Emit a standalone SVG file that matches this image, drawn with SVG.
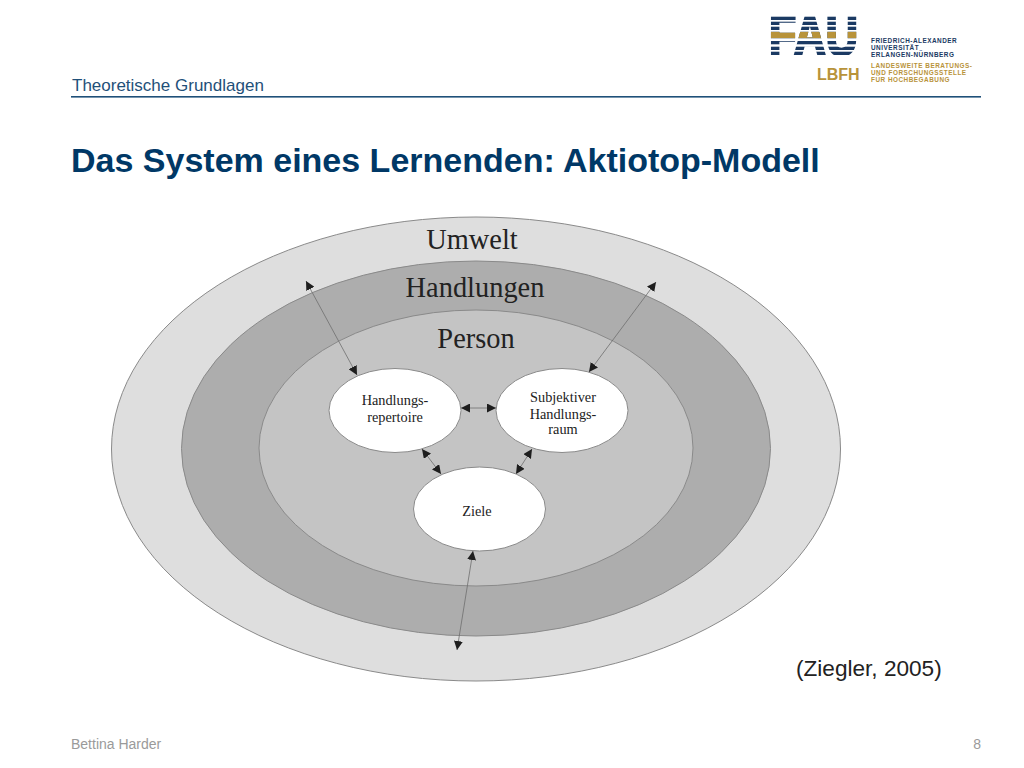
<svg xmlns="http://www.w3.org/2000/svg" width="1024" height="768" viewBox="0 0 1024 768">
<style>
.s{font-family:"Liberation Sans",Arial,sans-serif}
.t{font-family:"Liberation Serif","Times New Roman",serif;fill:#222;text-anchor:middle}
.n{font-size:14.3px}
.h{font-size:28.4px}
.e{stroke:#8a8a8a;stroke-width:1}
.c{stroke:#6e6e6e;stroke-width:.8;fill:none;marker-start:url(#a);marker-end:url(#a)}
.lg{font-size:6.4px;letter-spacing:.5px;font-weight:bold;font-family:"Liberation Sans",Arial,sans-serif}
.fau{font-size:56.700px;font-weight:bold;stroke-width:2.6}
</style>
<defs>
<marker id="a" viewBox="0 0 10 10" refX="10" refY="5" markerWidth="9" markerHeight="9" markerUnits="userSpaceOnUse" orient="auto-start-reverse"><path d="M0 0L10 5L0 10Z" fill="#1e1e1e"/></marker>
<clipPath id="gold"><rect x="760" y="31.700" width="110" height="6.600"/></clipPath>
</defs>
<rect width="1024" height="768" fill="#fff"/>
<g id="header">
<text x="72" y="91" class="s" font-size="17" fill="#1f5079">Theoretische Grundlagen</text>
<rect x="71" y="96" width="910" height="1.6" fill="#1f5079"/>
<text x="71" y="172" class="s" font-size="34" font-weight="bold" fill="#003866">Das System eines Lernenden: Aktiotop-Modell</text>
</g>
<g id="logo">
<text x="769" y="55" class="s fau" fill="#1b3a63" stroke="#1b3a63" textLength="89" lengthAdjust="spacingAndGlyphs">FAU</text>
<g clip-path="url(#gold)"><text x="769" y="55" class="s fau" fill="#b8933a" stroke="#b8933a" textLength="89" lengthAdjust="spacingAndGlyphs">FAU</text></g>
<g fill="#fff"><rect x="760" y="20" width="105" height="1.700"/><rect x="760" y="25" width="105" height="1.700"/><rect x="760" y="30" width="105" height="1.700"/><rect x="760" y="38.300" width="105" height="2.700"/><rect x="760" y="44.300" width="105" height="2.400"/><rect x="760" y="50" width="105" height="1.700"/><rect x="760" y="55" width="105" height="4"/><rect x="760" y="10" width="105" height="6.700"/></g>
<text x="817" y="80" class="s" font-size="16" font-weight="bold" fill="#b8933a">LBFH</text>
<g fill="#1b3a63" class="lg"><text x="871" y="43">FRIEDRICH-ALEXANDER</text><text x="871" y="50">UNIVERSITÄT</text><text x="871" y="57">ERLANGEN-NÜRNBERG</text></g>
<g fill="#b8933a" class="lg"><text x="871" y="67.500">LANDESWEITE BERATUNGS-</text><text x="871" y="74.500">UND FORSCHUNGSSTELLE</text><text x="871" y="81.500">FÜR HOCHBEGABUNG</text></g>
</g>
<g id="umwelt"><ellipse cx="476" cy="449" rx="364.500" ry="232" fill="#dedede" class="e"/><text x="472" y="249" class="t h">Umwelt</text></g>
<g id="handlungen"><ellipse cx="476" cy="448.500" rx="294.500" ry="187.500" fill="#adadad" class="e"/><text x="475" y="297" class="t h">Handlungen</text></g>
<g id="person"><ellipse cx="476" cy="448" rx="217" ry="138" fill="#c4c4c4" class="e"/><text x="476" y="348" class="t h">Person</text></g>
<g id="connectors">
<line class="c" x1="306" y1="281" x2="357" y2="375"/>
<line class="c" x1="656" y1="282" x2="589" y2="372"/>
<line class="c" x1="461" y1="408" x2="496" y2="408"/>
<line class="c" x1="422" y1="449" x2="441" y2="474"/>
<line class="c" x1="532" y1="449" x2="516" y2="474"/>
<line class="c" x1="473" y1="551" x2="457" y2="650"/>
</g>
<g id="node-repertoire"><ellipse cx="395" cy="410.500" rx="66" ry="42" fill="#fff" class="e"/><text x="395" y="405" class="t n">Handlungs-</text><text x="395" y="422" class="t n">repertoire</text></g>
<g id="node-raum"><ellipse cx="562" cy="410.500" rx="66" ry="42" fill="#fff" class="e"/><text x="563" y="402" class="t n">Subjektiver</text><text x="563" y="419" class="t n">Handlungs-</text><text x="563" y="434" class="t n">raum</text></g>
<g id="node-ziele"><ellipse cx="479.500" cy="509" rx="66" ry="42" fill="#fff" class="e"/><text x="477" y="516" class="t n">Ziele</text></g>
<text x="796" y="676" class="s" font-size="22.600" fill="#222">(Ziegler, 2005)</text>
<g id="footer" class="s" font-size="14" fill="#9a9a9a"><text x="71" y="749">Bettina Harder</text><text x="981" y="749" text-anchor="end">8</text></g>
</svg>
